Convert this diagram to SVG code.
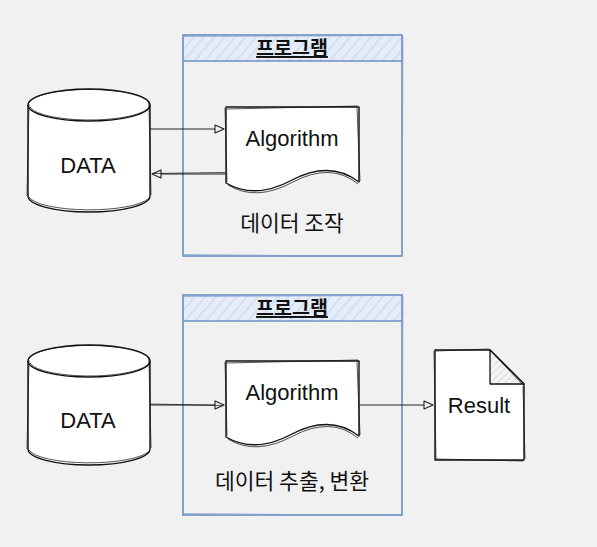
<svg xmlns="http://www.w3.org/2000/svg" width="597" height="547" viewBox="0 0 597 547">
<style>
.bg{fill:#f1f1f1}
.cont{fill:none;stroke:#6c8ebf;stroke-width:1.6}
.cont2{fill:none;stroke:#7fa0cf;stroke-width:0.9;opacity:0.8}
.shape{fill:#ffffff;stroke:#111;stroke-width:1.4;stroke-linejoin:round}
.sk{fill:none;stroke:#111;stroke-width:0.9;opacity:0.8}
.conn{fill:none;stroke:#222;stroke-width:1.1}
.title{font-family:"Noto Sans CJK KR","Noto Sans",sans-serif;font-size:19.5px;font-weight:bold;fill:#111;text-anchor:middle;text-decoration:underline}
.ko{font-family:"Noto Sans CJK KR","Noto Sans",sans-serif;font-size:21.5px;fill:#111;text-anchor:middle}
.lbl{font-family:"Liberation Sans","DejaVu Sans",sans-serif;font-size:22px;fill:#111;text-anchor:middle}
</style>
<defs>
<pattern id="hatch" width="8" height="8" patternUnits="userSpaceOnUse" patternTransform="rotate(-50)">
<rect width="8" height="8" fill="#e6edf8"/>
<line x1="0" y1="4" x2="8" y2="4" stroke="#d3e0f3" stroke-width="2"/>
</pattern>
<pattern id="ghatch" width="5" height="5" patternUnits="userSpaceOnUse" patternTransform="rotate(-45)">
<rect width="5" height="5" fill="#f4f4f4"/>
<line x1="0" y1="2.5" x2="5" y2="2.5" stroke="#dcdcdc" stroke-width="1"/>
</pattern>
<marker id="arr" markerWidth="12" markerHeight="10" refX="10" refY="5" orient="auto" markerUnits="userSpaceOnUse">
<path d="M1,1 L10,5 L1,9 Z" fill="#f1f1f1" stroke="#222" stroke-width="1.1" stroke-linejoin="round"/>
</marker>
</defs>
<rect class="bg" x="0" y="0" width="597" height="547"/>

<g id="container1">
<rect x="183" y="35" width="219" height="26" fill="url(#hatch)"/>
<rect class="cont" x="183" y="35" width="219" height="221"/>
<path class="cont" d="M183,61 L402,61"/>
<path class="cont2" d="M184,36.5 L401,35.5 M403,36 L402,255 M182,254.5 L401,256.5 M183.5,36 L182.5,255"/>
<text class="title" x="292" y="55">프로그램</text>
<text class="ko" x="292" y="231">데이터 조작</text>
</g>

<g id="container2">
<rect x="183" y="295" width="219" height="26" fill="url(#hatch)"/>
<rect class="cont" x="183" y="295" width="219" height="220"/>
<path class="cont" d="M183,321 L402,321"/>
<path class="cont2" d="M184,296.5 L401,295.5 M403,296 L402,514 M182,513.5 L401,515.5 M183.5,296 L182.5,514"/>
<text class="title" x="292" y="315">프로그램</text>
<text class="ko" x="292" y="489">데이터 추출, 변환</text>
</g>

<g id="data1">
<path class="shape" d="M28,105 A61,16 0 0 1 150,105 L150,196 A61,16 0 0 1 28,196 Z"/>
<path class="shape" fill="none" d="M28,105 A61,16 0 0 0 150,105"/>
<path class="sk" d="M29,103 A60,15 0 0 1 149,106 M30,107 A60,15 0 0 0 149,103 M149,106 L151,195 M29,104 L27,196 M29,197 A61,15 0 0 0 149,198"/>
<text class="lbl" x="88" y="173">DATA</text>
</g>

<g id="algo1">
<path class="shape" d="M226,107 L359,107 L359,182 Q330,160 292,180 Q255,200 226,183 Z"/>
<path class="sk" d="M227,109 L358,106 M357,108 L360,181 M225,108 L227,182 M358,184 Q331,162 293,182 Q256,202 228,185"/>
<text class="lbl" x="292" y="146">Algorithm</text>
</g>

<g id="data2">
<path class="shape" d="M28,361 A61,16 0 0 1 150,361 L150,449 A61,16 0 0 1 28,449 Z"/>
<path class="shape" fill="none" d="M28,361 A61,16 0 0 0 150,361"/>
<path class="sk" d="M29,359 A60,15 0 0 1 149,362 M30,363 A60,15 0 0 0 149,359 M149,362 L151,448 M29,360 L27,449 M29,450 A61,15 0 0 0 149,451"/>
<text class="lbl" x="88" y="428">DATA</text>
</g>

<g id="algo2">
<path class="shape" d="M226,361 L359,361 L359,436 Q330,414 292,434 Q255,454 226,437 Z"/>
<path class="sk" d="M227,363 L358,360 M357,362 L360,435 M225,362 L227,436 M358,438 Q331,416 293,436 Q256,456 228,439"/>
<text class="lbl" x="292" y="400">Algorithm</text>
</g>

<g id="result">
<path class="shape" d="M435,350 L490,350 L524,384 L524,460 L435,460 Z"/>
<path d="M490,350 L490,384 L524,384 Z" fill="url(#ghatch)" stroke="#111" stroke-width="1.3" stroke-linejoin="round"/>
<path class="sk" d="M436,351 L489,349 M491,351 L523,385 M523,386 L525,459 M436,459 L523,461 M434,351 L436,459"/>
<text class="lbl" x="479" y="413">Result</text>
</g>

<g id="connectors">
<path class="conn" d="M150,129 L224,129" marker-end="url(#arr)"/>
<path class="conn" d="M226,174 L152,174" marker-end="url(#arr)"/>
<path class="sk" d="M225,172.5 L153,173.5"/>
<path class="conn" d="M150,405 L224,405" marker-end="url(#arr)"/>
<path class="sk" d="M151,404 L222,405.5"/>
<path class="conn" d="M359,405 L433,405" marker-end="url(#arr)"/>
</g>
</svg>
